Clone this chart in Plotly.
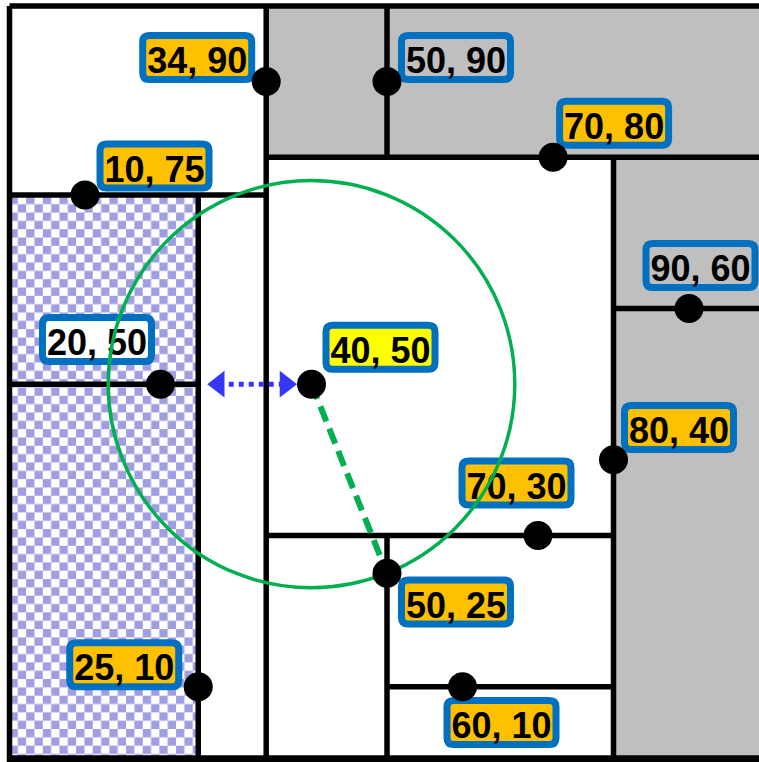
import base64
import plotly.graph_objects as go

# ---------------- data ----------------
point_x = [34, 10, 25, 20, 72, 50, 80, 90, 70, 50, 60]
point_y = [90, 75, 10, 50, 80, 90, 40, 60, 30, 25, 10]
point_labels = ["34, 90", "10, 75", "25, 10", "20, 50", "70, 80", "50, 90",
                "80, 40", "90, 60", "70, 30", "50, 25", "60, 10"]
query_x = [40]
query_y = [50]
query_labels = ["40, 50"]
nearest_x = [50]
nearest_y = [25]
domain = [0, 100]
pruned_x0 = [34, 80]
pruned_x1 = [100, 100]
pruned_y0 = [80, 0]
pruned_y1 = [100, 80]
visit_x0 = [0]
visit_x1 = [25]
visit_y0 = [0]
visit_y1 = [75]
hyperplane_x = [25]

# ---------------- style ----------------
W, H = 759, 762
XR = [-1.258, 99.27]
YR = [0.04, 100.79]
PXU = W / (XR[1] - XR[0])
PYU = H / (YR[1] - YR[0])
BORDER = "#0070C0"
label_fill = ["#FFC000", "#FFC000", "#FFC000", "#FFFFFF", "#FFC000", "#BFBFBF",
              "#FFC000", "#BFBFBF", "#FFC000", "#FFC000", "#FFC000"]
label_off = [(-69, 24), (69.5, 29), (-74, 22), (-63.5, 44.7), (61, 34), (69, 24),
             (65.5, 32.3), (11.5, 43), (-21.5, 52.4), (69, -28.8), (39, -35.8)]
query_fill = ["#FFFF00"]
query_off = [(69, 37)]
GREEN = "#00B050"
BLUE = "#3636FA"
CHECK = "#A09EE0"
LAYER = "between"
LW = 5.5

# ---------------- k-d tree ----------------
tree = []
for x, y in zip(point_x, point_y):
    xmin, xmax, ymin, ymax = domain[0], domain[1], domain[0], domain[1]
    node = 0 if tree else None
    depth = 0
    parent = None
    while node is not None:
        n = tree[node]
        if n["axis"] == 0:
            if x < n["x"]:
                xmax = n["x"]; side = "lo"
            else:
                xmin = n["x"]; side = "hi"
        else:
            if y < n["y"]:
                ymax = n["y"]; side = "lo"
            else:
                ymin = n["y"]; side = "hi"
        parent = (node, side)
        node = n[side]
        depth += 1
    tree.append(dict(x=x, y=y, axis=depth % 2, lo=None, hi=None,
                     b=(xmin, xmax, ymin, ymax)))
    if parent is not None:
        tree[parent[0]][parent[1]] = len(tree) - 1

shapes = []
# pruned regions
for x0, x1, y0, y1 in zip(pruned_x0, pruned_x1, pruned_y0, pruned_y1):
    shapes.append(dict(type="rect", layer="below", xref="x", yref="y",
                       x0=x0, x1=x1, y0=y0, y1=y1,
                       fillcolor="#BFBFBF", line=dict(width=0)))

# splitting lines
for n in tree:
    xmin, xmax, ymin, ymax = n["b"]
    if n["axis"] == 0:
        seg = dict(x0=n["x"], x1=n["x"], y0=ymin, y1=ymax)
    else:
        seg = dict(x0=xmin, x1=xmax, y0=n["y"], y1=n["y"])
    shapes.append(dict(type="line", layer=LAYER, xref="x", yref="y",
                       line=dict(color="black", width=LW), **seg))

# frame
lo, hi = domain
for seg, w in [((lo, lo, lo, hi), LW), ((lo, hi, hi, hi), LW),
               ((hi, hi, lo, hi), LW), ((lo, hi, lo, lo), 14)]:
    shapes.append(dict(type="line", layer=LAYER, xref="x", yref="y",
                       x0=seg[0], x1=seg[1], y0=seg[2], y1=seg[3],
                       line=dict(color="black", width=w)))


def rounded_box(cx, cy, hw=54.5, hh=22, r=6.5):
    l, rr, b, t = cx - hw, cx + hw, cy - hh, cy + hh
    return (f"M {l + r} {b} L {rr - r} {b} Q {rr} {b} {rr} {b + r} "
            f"L {rr} {t - r} Q {rr} {t} {rr - r} {t} L {l + r} {t} "
            f"Q {l} {t} {l} {t - r} L {l} {b + r} Q {l} {b} {l + r} {b} Z")


def add_label(x, y, text, fill, off):
    shapes.append(dict(type="path", layer=LAYER, xref="x", yref="y",
                       xsizemode="pixel", ysizemode="pixel",
                       xanchor=x, yanchor=y, path=rounded_box(*off),
                       fillcolor=fill, line=dict(color=BORDER, width=7),
                       label=dict(text=f"<b>{text}</b>", textposition="middle center",
                                  font=dict(family="Liberation Sans, Arial", size=36,
                                            color="black"))))


for x, y, t, f, o in zip(point_x, point_y, point_labels, label_fill, label_off):
    add_label(x, y, t, f, o)
for x, y, t, f, o in zip(query_x, query_y, query_labels, query_fill, query_off):
    add_label(x, y, t, f, o)

# search circle
qx, qy = query_x[0], query_y[0]
rad = ((nearest_x[0] - qx) ** 2 + (nearest_y[0] - qy) ** 2) ** 0.5
shapes.append(dict(type="circle", layer=LAYER, xref="x", yref="y",
                   x0=qx - rad, x1=qx + rad, y0=qy - rad, y1=qy + rad,
                   line=dict(color=GREEN, width=3.5)))

# checkerboard for visited region
images = []
for x0, x1, y0, y1 in zip(visit_x0, visit_x1, visit_y0, visit_y1):
    wpx = (x1 - x0) * PXU
    hpx = (y1 - y0) * PYU
    c = 8.33
    svg = (f'<svg xmlns="http://www.w3.org/2000/svg" width="{wpx:.1f}" height="{hpx:.1f}" '
           f'viewBox="0 0 {wpx:.1f} {hpx:.1f}" preserveAspectRatio="none">'
           f'<defs><pattern id="c" x="0" y="{hpx % (2*c):.2f}" width="{2*c}" height="{2*c}" patternUnits="userSpaceOnUse">'
           f'<rect width="{2*c}" height="{2*c}" fill="white"/>'
           f'<rect width="{c}" height="{c}" fill="{CHECK}"/>'
           f'<rect x="{c}" y="{c}" width="{c}" height="{c}" fill="{CHECK}"/>'
           f'</pattern></defs><rect width="{wpx:.1f}" height="{hpx:.1f}" fill="url(#c)"/></svg>')
    src = "data:image/svg+xml;base64," + base64.b64encode(svg.encode()).decode()
    images.append(dict(source=src, xref="x", yref="y", x=x0, y=y1,
                       sizex=x1 - x0, sizey=y1 - y0, sizing="stretch",
                       xanchor="left", yanchor="top", layer="below"))

fig = go.Figure()

# nearest-distance dashed line
fig.add_trace(go.Scatter(x=[qx, nearest_x[0]], y=[qy, nearest_y[0]], mode="lines",
                         line=dict(color=GREEN, width=6, dash="16px,8px"),
                         hoverinfo="skip"))

# distance to hyperplane arrow
gap_l, gap_r = 20.5 / PXU, 26 / PXU
fig.add_trace(go.Scatter(x=[hyperplane_x[0] + gap_l, qx - gap_r], y=[qy, qy],
                         mode="lines+markers",
                         line=dict(color=BLUE, width=5, dash="dot"),
                         marker=dict(symbol=["triangle-left", "triangle-right"],
                                     size=23, color=BLUE, line=dict(width=0)),
                         hoverinfo="skip"))

# points
fig.add_trace(go.Scatter(x=point_x + query_x, y=point_y + query_y, mode="markers",
                         marker=dict(size=29, color="black", line=dict(width=0)),
                         hoverinfo="skip"))

fig.update_layout(width=W, height=H, margin=dict(l=0, r=0, t=0, b=0),
                  plot_bgcolor="white", paper_bgcolor="white", showlegend=False,
                  xaxis=dict(range=XR, visible=False, fixedrange=True, showgrid=False,
                             zeroline=False),
                  yaxis=dict(range=YR, visible=False, fixedrange=True, showgrid=False,
                             zeroline=False),
                  shapes=shapes, images=images)

fig.write_html("out.html", config={"displayModeBar": False},
               post_script="document.body.style.margin='0';"
                           "document.body.style.overflow='hidden';")
